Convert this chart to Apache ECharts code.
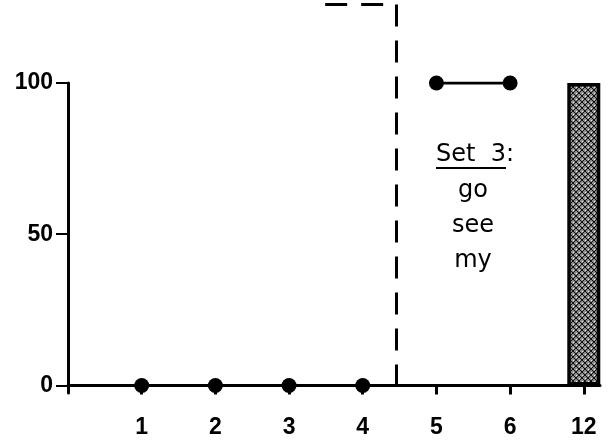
<!DOCTYPE html>
<html>
<head>
<meta charset="utf-8">
<script src="https://cdn.jsdelivr.net/npm/echarts@6/dist/echarts.min.js"></script>
<style>html,body{margin:0;padding:0;background:#fff}#c{width:608px;height:446px}</style>
</head>
<body>
<div id="c"></div>
<script>
// ---- data ----
const categories = ['1', '2', '3', '4', '5', '6', '12'];
const categoryPos = [1, 2, 3, 4, 5, 6, 7];
const set2Sessions = ['1', '2', '3', '4'];
const set2Values = [0, 0, 0, 0];
const set3Sessions = ['5', '6'];
const set3Values = [100, 100];
const followUpSessions = ['12'];
const followUpValues = [100];
const yTicks = [0, 50, 100];
const phaseLineX = 4.45;
const noteLines = ['go', 'see', 'my'];

const pos = c => categoryPos[categories.indexOf(c)];

// stipple pattern for bar
const pc = document.createElement('canvas');
pc.width = 6; pc.height = 6;
const px = pc.getContext('2d');
px.fillStyle = '#8c8c8c'; px.fillRect(0, 0, 6, 6);
px.fillStyle = '#111';
for (let i = 0; i < 6; i++) { px.fillRect(i, i, 1, 1); px.fillRect(5 - i, i, 1, 1); }
px.fillStyle = '#eee';
px.fillRect(3, 0, 1, 1); px.fillRect(0, 3, 1, 1);

const chart = echarts.init(document.getElementById('c'), null, {renderer: 'canvas'});
const axisFont = {fontFamily: 'Liberation Sans', fontWeight: 'bold', fontSize: 23, color: '#000'};
chart.setOption({
  animation: false,
  grid: [
    {left: 68, right: 8, top: 83, bottom: 53, outerBoundsMode: 'none'},
    {left: 68, right: 8, top: 4.4, bottom: 53, outerBoundsMode: 'none'}
  ],
  xAxis: [{
    type: 'value', min: 0, max: 7.22,
    splitLine: {show: false},
    axisLine: {lineStyle: {color: '#000', width: 3}},
    axisTick: {length: 9, lineStyle: {color: '#000', width: 3}, customValues: categoryPos},
    axisLabel: Object.assign({margin: 23, customValues: categoryPos,
      formatter: v => categories[categoryPos.indexOf(v)] || ''}, axisFont)
  }, {
    type: 'value', min: 0, max: 7.22, gridIndex: 1, show: false
  }],
  yAxis: [{
    type: 'value', min: -2.5, max: 100,
    splitLine: {show: false},
    axisLine: {lineStyle: {color: '#000', width: 3}},
    axisTick: {length: 12, lineStyle: {color: '#000', width: 2}, customValues: yTicks},
    axisLabel: Object.assign({margin: 15, customValues: yTicks}, axisFont)
  }, {
    type: 'value', min: -2.5, max: 126, gridIndex: 1, show: false
  }],
  series: [
    {
      type: 'line', name: 'Set 2',
      data: set2Sessions.map((c, i) => [pos(c), set2Values[i]]),
      symbol: 'circle', symbolSize: 15,
      itemStyle: {color: '#000'}, lineStyle: {color: '#000', width: 3}
    },
    {
      type: 'line', name: 'Set 3',
      data: set3Sessions.map((c, i) => [pos(c), set3Values[i]]),
      symbol: 'circle', symbolSize: 15,
      itemStyle: {color: '#000'}, lineStyle: {color: '#000', width: 3}
    },
    {
      type: 'line', name: 'phase', xAxisIndex: 1, yAxisIndex: 1, data: [],
      markLine: {
        silent: true, symbol: 'none', label: {show: false},
        lineStyle: {color: '#000', width: 3, type: [22, 14]},
        data: [
          [{coord: [phaseLineX, 126]}, {coord: [phaseLineX, -2.5]}],
          [{coord: [3.49, 126]}, {coord: [phaseLineX, 126]}]
        ]
      }
    },
    {
      type: 'bar', name: 'Follow-up',
      data: followUpSessions.map((c, i) => [pos(c), followUpValues[i]]),
      barWidth: 33,
      itemStyle: {color: {image: pc, repeat: 'repeat'}, borderColor: '#000', borderWidth: 3.5}
    }
  ],
  graphic: [
    {type: 'text', x: 475, y: 155, style: {text: 'Set  3:', font: '24px "DejaVu Sans"', fill: '#000', textAlign: 'center', textVerticalAlign: 'middle'}},
    {type: 'line', shape: {x1: 436, y1: 168, x2: 506, y2: 168}, style: {stroke: '#000', lineWidth: 2}},
    ...noteLines.map((t, i) => ({type: 'text', x: 473, y: 191 + i * 35,
      style: {text: t, font: '24px "DejaVu Sans"', fill: '#000', textAlign: 'center', textVerticalAlign: 'middle'}}))
  ]
});
</script>
</body>
</html>
